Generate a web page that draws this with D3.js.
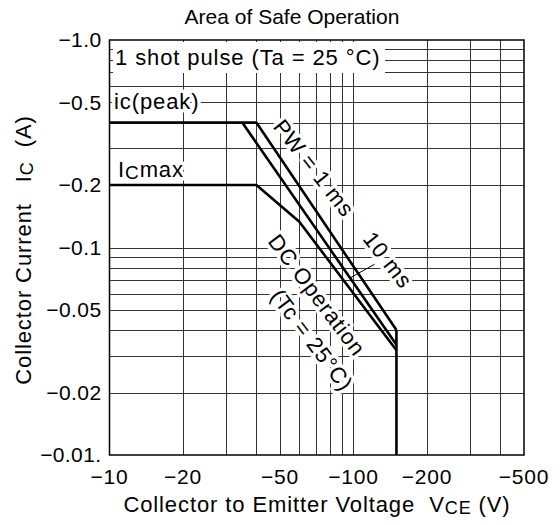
<!DOCTYPE html>
<html lang="en">
<head>
    <meta charset="UTF-8">
    <title>Area of Safe Operation</title>
    <script src="https://d3js.org/d3.v7.min.js"></script>
    <style>
        body { margin: 0; background: #fff; }
        svg text { font-family: 'Liberation Sans', Arial, sans-serif; fill: #000; }
    </style>
</head>
<body>
<div id="chart"></div>
<script>
    // axis ticks and grid
    const xTicks = [-10, -20, -50, -100, -200, -500];
    const xTickLabels = ["−10", "−20", "−50", "−100", "−200", "−500"];
    const yTicks = [-1.0, -0.5, -0.2, -0.1, -0.05, -0.02, -0.01];
    const yTickLabels = ["−1.0", "−0.5", "−0.2", "−0.1", "−0.05", "−0.02", "−0.01."];
    const xGrid = [-20, -30, -40, -50, -60, -70, -80, -90, -100, -200, -300, -400];
    const yGrid = [-0.9, -0.8, -0.7, -0.6, -0.5, -0.4, -0.3, -0.2, -0.1,
                   -0.09, -0.08, -0.07, -0.06, -0.05, -0.04, -0.03, -0.02];

    // SOA boundary lines (VCE, IC)
    const icPeak = [[-10, -0.4], [-40, -0.4]];
    const pw1ms = [[-40, -0.4], [-150, -0.04]];
    const pw10ms = [[-35, -0.4], [-150, -0.034]];
    const dcOperation = [[-10, -0.2], [-40, -0.2], [-60, -0.133], [-150, -0.032]];
    const vceLimit = [[-150, -0.04], [-150, -0.01]];
    const leader10ms = [[-122, -0.083], [-97, -0.0714]];

    const W = 560, H = 525;
    const mLeft = 109.5, mRight = 524, mTop = 40, mBottom = 455;
    const FS = 22, LS = 0.9;   // label font size, letter spacing

    const svg = d3.select("#chart").append("svg")
        .attr("width", W)
        .attr("height", H);

    const x = d3.scaleLog().domain([-10, -500]).range([mLeft, mRight]);
    const y = d3.scaleLog().domain([-0.01, -1]).range([mBottom, mTop]);

    const line = d3.line().x(d => x(d[0])).y(d => y(d[1]));

    // grid
    const grid = svg.append("g")
        .attr("stroke", "#333")
        .attr("stroke-width", 1)
        .attr("shape-rendering", "crispEdges");
    grid.selectAll(".vg").data(xGrid).join("line")
        .attr("x1", d => Math.round(x(d)) + 0.5).attr("x2", d => Math.round(x(d)) + 0.5)
        .attr("y1", mTop).attr("y2", mBottom);
    grid.selectAll(".hg").data(yGrid).join("line")
        .attr("y1", d => Math.round(y(d)) + 0.5).attr("y2", d => Math.round(y(d)) + 0.5)
        .attr("x1", mLeft).attr("x2", mRight);

    // white box behind the pulse note
    svg.append("rect")
        .attr("x", 113).attr("y", 42)
        .attr("width", 272).attr("height", 31)
        .attr("fill", "#fff");

    // labels inside plot (halo first, then curves, then text)
    const notes = [
        { t: "ic(peak)", x: 114, y: 109, r: 0, a: "start" },
        { t: "PW = 1 ms", x: 314, y: 168, r: 52, a: "middle" },
        { t: "10 ms", x: 388, y: 260, r: 52, a: "middle" },
        { t: "DC Operation", x: 317, y: 295, r: 53, a: "middle" },
        { t: "(Tc = 25°C)", x: 312, y: 340, r: 53, a: "middle" }
    ];

    function drawNotes(g, halo) {
        g.selectAll("text").data(notes).join("text")
            .attr("transform", d => `translate(${d.x},${d.y}) rotate(${d.r})`)
            .attr("dy", d => d.r ? "0.35em" : 0)
            .attr("text-anchor", d => d.a)
            .attr("font-size", FS)
            .attr("letter-spacing", LS)
            .attr("stroke", halo ? "#fff" : null)
            .attr("stroke-width", halo ? 7 : null)
            .attr("stroke-linejoin", "round")
            .style("fill", halo ? "#fff" : "#000")
            .text(d => d.t);
    }

    drawNotes(svg.append("g"), true);

    function icmaxText(halo) {
        const t = svg.append("text")
            .attr("x", 118).attr("y", 177)
            .attr("font-size", FS)
            .attr("letter-spacing", LS);
        if (halo) {
            t.attr("stroke", "#fff").attr("stroke-width", 7)
                .attr("stroke-linejoin", "round").style("fill", "#fff");
        }
        t.append("tspan").text("I");
        t.append("tspan").attr("font-size", 19).attr("dy", 2).text("C");
        t.append("tspan").attr("dy", -2).text("max");
    }
    icmaxText(true);

    // plot frame
    svg.append("rect")
        .attr("x", mLeft).attr("y", mTop)
        .attr("width", mRight - mLeft).attr("height", mBottom - mTop)
        .attr("fill", "none")
        .attr("stroke", "#000")
        .attr("stroke-width", 1.5);

    // SOA curves
    const curves = svg.append("g")
        .attr("fill", "none")
        .attr("stroke", "#000")
        .attr("stroke-width", 2.6)
        .attr("stroke-linejoin", "round");
    [icPeak, pw1ms, pw10ms, dcOperation, vceLimit].forEach(s => {
        curves.append("path").attr("d", line(s));
    });
    svg.append("path")
        .attr("d", line(leader10ms))
        .attr("fill", "none")
        .attr("stroke", "#000")
        .attr("stroke-width", 1);

    drawNotes(svg.append("g"), false);
    icmaxText(false);

    svg.append("text")
        .attr("x", 115).attr("y", 65)
        .attr("font-size", FS)
        .attr("letter-spacing", LS)
        .text("1 shot pulse (Ta = 25 °C)");

    // tick labels
    svg.append("g").selectAll("text").data(yTicks).join("text")
        .attr("x", mLeft - 8)
        .attr("y", d => y(d))
        .attr("dy", "0.35em")
        .attr("text-anchor", "end")
        .attr("font-size", 21)
        .attr("letter-spacing", 0.4)
        .text((d, i) => yTickLabels[i]);

    svg.append("g").selectAll("text").data(xTicks).join("text")
        .attr("x", d => x(d))
        .attr("y", mBottom + 29)
        .attr("text-anchor", "middle")
        .attr("font-size", 21)
        .attr("letter-spacing", 0.8)
        .text((d, i) => xTickLabels[i]);

    // titles
    svg.append("text")
        .attr("x", 292).attr("y", 24)
        .attr("text-anchor", "middle")
        .attr("font-size", 21)
        .text("Area of Safe Operation");

    const xTitle = svg.append("text")
        .attr("x", 317).attr("y", 512)
        .attr("text-anchor", "middle")
        .attr("font-size", FS)
        .attr("letter-spacing", LS)
        .attr("xml:space", "preserve");
    xTitle.append("tspan").text("Collector to Emitter Voltage  V");
    xTitle.append("tspan").attr("font-size", 18).attr("dy", 2).text("CE");
    xTitle.append("tspan").attr("dy", -2).text(" (V)");

    const yTitle = svg.append("text")
        .attr("transform", "translate(31,250) rotate(-90)")
        .attr("text-anchor", "middle")
        .attr("font-size", FS)
        .attr("letter-spacing", LS)
        .attr("xml:space", "preserve");
    yTitle.append("tspan").text("Collector Current   I");
    yTitle.append("tspan").attr("font-size", 18).attr("dy", 2).text("C");
    yTitle.append("tspan").attr("dy", -2).text("  (A)");
</script>
</body>
</html>
